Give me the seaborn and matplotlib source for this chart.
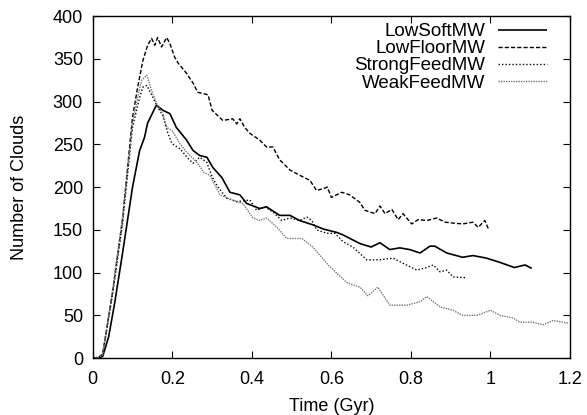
import numpy as np
import pandas as pd
import seaborn as sns
import matplotlib
matplotlib.use("Agg")
import matplotlib.pyplot as plt

# values (Time in Gyr, Number of Clouds)
low_soft_t = [0, 0.015, 0.025, 0.04, 0.055, 0.075, 0.10, 0.118, 0.13, 0.138, 0.16, 0.176, 0.194,
              0.21, 0.236, 0.252, 0.269, 0.287, 0.302, 0.325, 0.345, 0.37, 0.387, 0.42, 0.437,
              0.47, 0.496, 0.52, 0.553, 0.58, 0.614, 0.63, 0.672, 0.70, 0.722, 0.747, 0.772,
              0.797, 0.823, 0.848, 0.86, 0.89, 0.93, 0.956, 0.99, 1.024, 1.06, 1.087, 1.104]
low_soft_n = [0, 0, 2, 25, 64, 123, 200, 243, 258, 275, 296, 290, 286,
              270, 255, 243, 237, 235, 223, 211, 194, 191, 181, 175, 177,
              167, 167, 161, 156, 151, 147, 144, 134, 130, 135, 127, 129,
              127, 123, 131, 131, 123, 118, 120, 117, 112, 106, 109, 105]

low_floor_t = [0, 0.015, 0.025, 0.05, 0.075, 0.10, 0.113, 0.126, 0.138, 0.148, 0.156, 0.163,
               0.173, 0.186, 0.194, 0.206, 0.215, 0.236, 0.252, 0.264, 0.29, 0.30, 0.327,
               0.352, 0.362, 0.37, 0.382, 0.395, 0.42, 0.437, 0.453, 0.47, 0.496, 0.52, 0.546,
               0.563, 0.59, 0.60, 0.626, 0.646, 0.672, 0.684, 0.71, 0.722, 0.735, 0.752,
               0.768, 0.78, 0.802, 0.818, 0.84, 0.865, 0.886, 0.906, 0.93, 0.956, 0.969,
               0.986, 0.996]
low_floor_n = [0, 1, 5, 78, 163, 282, 317, 348, 366, 374, 366, 375,
               364, 375, 368, 352, 345, 333, 322, 311, 308, 290, 278,
               280, 274, 280, 270, 263, 255, 247, 247, 232, 220, 214, 208,
               196, 200, 188, 194, 191, 182, 173, 169, 178, 169, 174,
               162, 169, 157, 162, 161, 164, 159, 158, 157, 159, 153,
               161, 150]

strong_t = [0, 0.015, 0.025, 0.05, 0.075, 0.10, 0.118, 0.126, 0.136, 0.148, 0.163, 0.176,
            0.189, 0.199, 0.219, 0.239, 0.252, 0.269, 0.287, 0.30, 0.315, 0.337, 0.362,
            0.395, 0.412, 0.433, 0.453, 0.475, 0.496, 0.52, 0.538, 0.551, 0.563, 0.589,
            0.609, 0.63, 0.654, 0.689, 0.722, 0.755, 0.78, 0.815, 0.84, 0.856, 0.873,
            0.89, 0.906, 0.94]
strong_n = [0, 1, 4, 75, 158, 270, 305, 317, 319, 308, 294, 284,
            263, 251, 245, 234, 228, 235, 229, 212, 200, 187, 183,
            185, 173, 177, 171, 161, 164, 161, 165, 161, 150, 146,
            146, 136, 130, 115, 115, 117, 111, 103, 106, 109, 101,
            103, 95, 94]

weak_t = [0, 0.015, 0.025, 0.05, 0.075, 0.10, 0.118, 0.123, 0.136, 0.148, 0.163, 0.176,
          0.186, 0.20, 0.219, 0.236, 0.262, 0.28, 0.294, 0.31, 0.32, 0.352, 0.377, 0.403,
          0.42, 0.437, 0.463, 0.488, 0.503, 0.526, 0.553, 0.596, 0.64, 0.672, 0.692,
          0.717, 0.747, 0.79, 0.823, 0.84, 0.873, 0.906, 0.93, 0.966, 1.0, 1.024, 1.057,
          1.074, 1.107, 1.132, 1.157, 1.195]
weak_n = [0, 1, 4, 80, 165, 275, 316, 325, 331, 313, 295, 286,
          270, 266, 251, 241, 229, 217, 214, 200, 191, 185, 181, 164,
          161, 164, 153, 140, 140, 140, 130, 107, 88, 83, 73,
          83, 62, 62, 66, 72, 60, 56, 50, 50, 56, 50, 47,
          42, 42, 39, 44, 41]

x_ticks = [0, 0.2, 0.4, 0.6, 0.8, 1.0, 1.2]
x_labels = ["0", "0.2", "0.4", "0.6", "0.8", "1", "1.2"]
y_ticks = [0, 50, 100, 150, 200, 250, 300, 350, 400]

sns.set_style("ticks", {"xtick.direction": "in", "ytick.direction": "in",
                        "text.color": "black", "axes.labelcolor": "black",
                        "xtick.color": "black", "ytick.color": "black",
                        "axes.edgecolor": "black"})
plt.rcParams["font.family"] = ["Liberation Sans", "DejaVu Sans"]

fig = plt.figure(figsize=(5.87, 4.15), dpi=100)
ax = fig.add_axes([0.158, 0.137, 0.813, 0.824])

series = [
    ("LowSoftMW", low_soft_t, low_soft_n, "black", (0, ()), 1.2),
    ("LowFloorMW", low_floor_t, low_floor_n, "black", (0, (3, 1.5)), 1.0),
    ("StrongFeedMW", strong_t, strong_n, "black", (0, (1, 1.5)), 1.0),
    ("WeakFeedMW", weak_t, weak_n, "#777777", (0, (1, 0.8)), 1.0),
]
for name, t, n, col, ls, lw in series:
    df = pd.DataFrame({"t": t, "n": n})
    sns.lineplot(data=df, x="t", y="n", ax=ax, color=col, linestyle=ls,
                 linewidth=lw, label=name, sort=False)

ax.set_xlim(0, 1.2)
ax.set_ylim(0, 400)
ax.set_xticks(x_ticks)
ax.set_xticklabels(x_labels)
ax.set_yticks(y_ticks)
ax.tick_params(which="both", direction="in", length=5, width=0.8,
               top=True, right=True, labelsize=13, color="black",
               labelcolor="black")
ax.tick_params(axis="x", pad=9)
ax.tick_params(axis="y", pad=7)
for s in ax.spines.values():
    s.set_linewidth(1.0)
    s.set_color("black")
ax.set_xlabel("Time (Gyr)", fontsize=13, color="black")
ax.set_ylabel("Number of Clouds", fontsize=13, color="black")
ax.xaxis.set_label_coords(0.5, -0.117)
ax.yaxis.set_label_coords(-0.135, 0.5)

leg = ax.legend(loc="upper right", bbox_to_anchor=(0.952, 0.98), frameon=False,
                markerfirst=False, fontsize=13.5, handlelength=2.6,
                labelspacing=0.0, handletextpad=0.7, borderaxespad=0,
                borderpad=0, labelcolor="black")

fig.savefig("out.png", dpi=100)
